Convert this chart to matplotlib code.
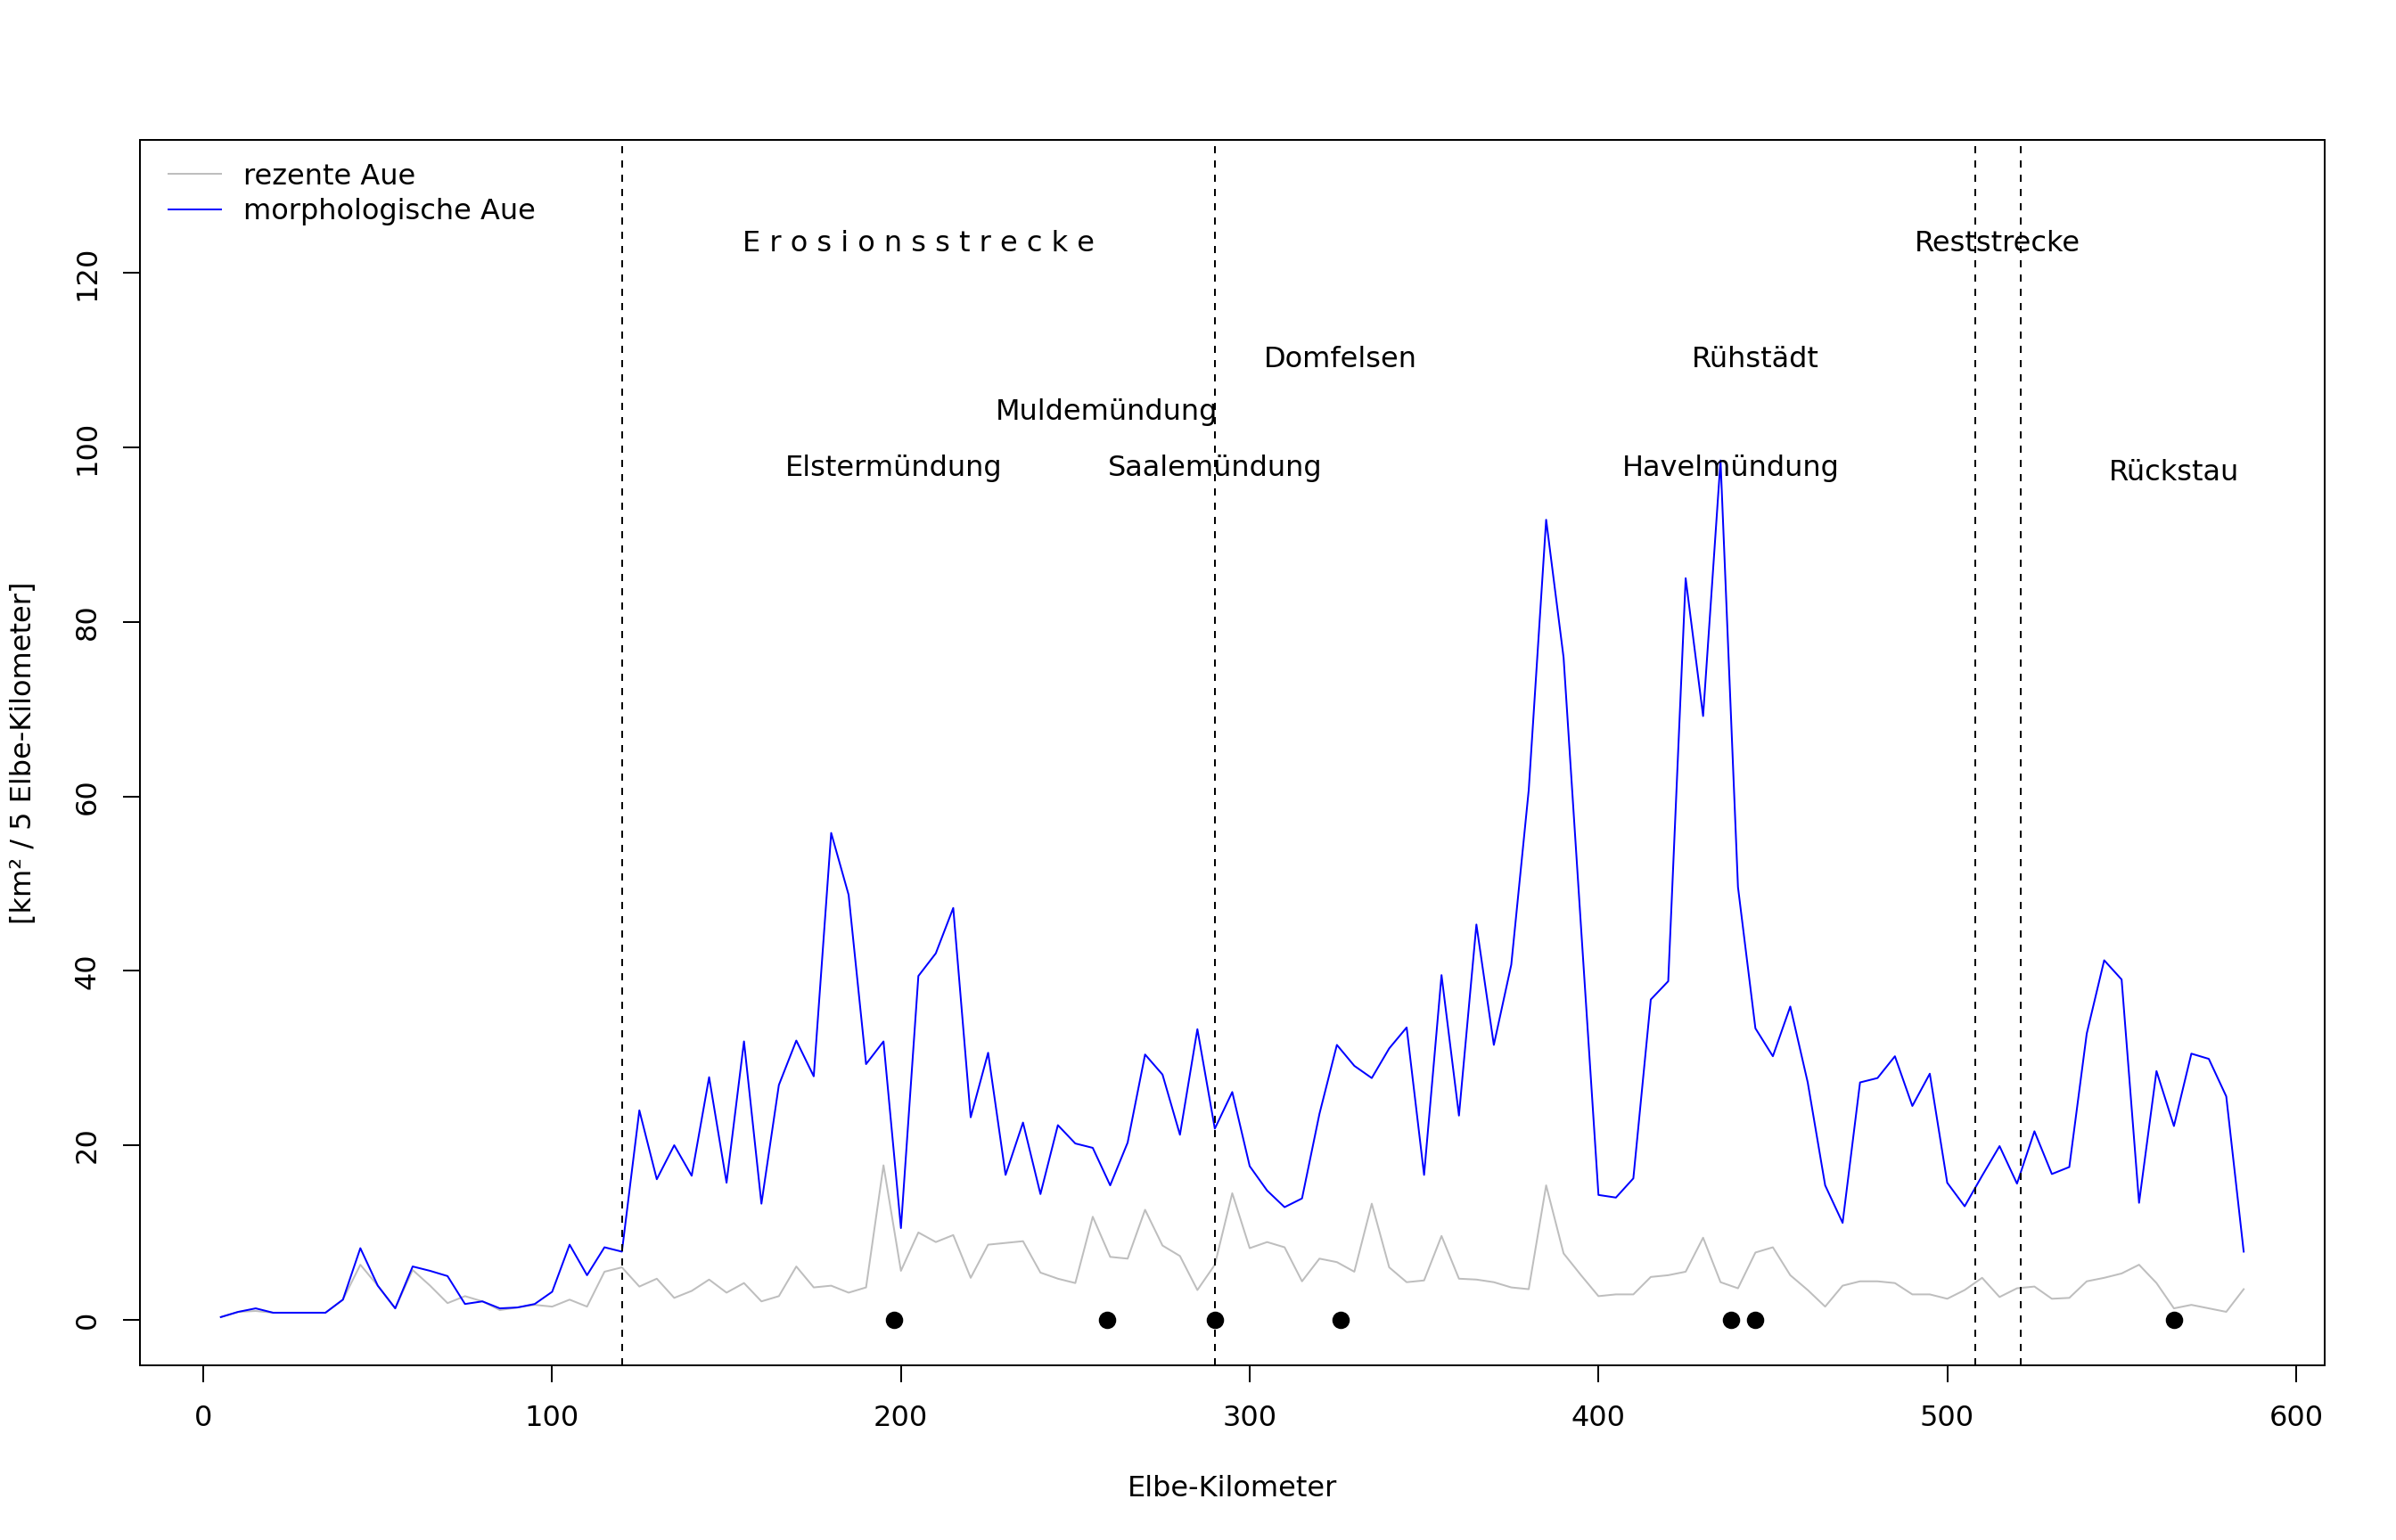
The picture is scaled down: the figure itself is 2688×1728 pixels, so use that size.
import numpy as np
import matplotlib
matplotlib.use("Agg")
import matplotlib.pyplot as plt

# ── Data ───────────────────────────────────────────────────
km = np.arange(5, 590, 5)

rezent = [0.3, 0.9, 1.0, 0.8, 0.8, 0.8, 0.8, 2.3, 6.3, 3.9,
          1.3, 5.7, 3.9, 1.9, 2.7, 2.1, 1.1, 1.4, 1.7, 1.5,
          2.3, 1.5, 5.5, 6.0, 3.8, 4.7, 2.5, 3.3, 4.6, 3.1,
          4.2, 2.1, 2.7, 6.1, 3.7, 3.9, 3.1, 3.7, 17.7, 5.6,
          10.0, 8.9, 9.7, 4.8, 8.6, 8.8, 9.0, 5.4, 4.7, 4.2,
          11.8, 7.2, 7.0, 12.6, 8.5, 7.3, 3.4, 6.3, 14.5, 8.2,
          8.9, 8.3, 4.4, 7.0, 6.6, 5.5, 13.3, 6.0, 4.3, 4.5,
          9.6, 4.7, 4.6, 4.3, 3.7, 3.5, 15.4, 7.6, 5.1, 2.7,
          2.9, 2.9, 4.9, 5.1, 5.5, 9.4, 4.3, 3.6, 7.7, 8.3,
          5.1, 3.4, 1.5, 3.9, 4.4, 4.4, 4.2, 2.9, 2.9, 2.4,
          3.4, 4.8, 2.6, 3.6, 3.8, 2.4, 2.5, 4.4, 4.8, 5.3,
          6.3, 4.2, 1.3, 1.7, 1.3, 0.9, 3.5]

morph = [0.3, 0.9, 1.3, 0.8, 0.8, 0.8, 0.8, 2.3, 8.2, 3.9,
         1.3, 6.1, 5.6, 5.0, 1.8, 2.1, 1.3, 1.4, 1.8, 3.2,
         8.6, 5.1, 8.3, 7.8, 24.0, 16.1, 20.0, 16.5, 27.8, 15.7,
         31.9, 13.3, 26.9, 32.0, 27.9, 55.8, 48.7, 29.3, 31.9, 10.5,
         39.4, 42.0, 47.2, 23.2, 30.6, 16.6, 22.6, 14.4, 22.3, 20.2,
         19.7, 15.4, 20.3, 30.4, 28.1, 21.2, 33.3, 21.9, 26.1, 17.6,
         14.8, 12.9, 13.9, 23.6, 31.5, 29.1, 27.7, 31.1, 33.5, 16.6,
         39.5, 23.4, 45.3, 31.5, 40.7, 60.7, 91.7, 75.9, 45.0, 14.3,
         14.0, 16.2, 36.7, 38.8, 85.0, 69.2, 98.5, 49.6, 33.4, 30.2,
         35.9, 27.2, 15.4, 11.1, 27.2, 27.7, 30.2, 24.5, 28.2, 15.7,
         13.0, 16.5, 19.9, 15.6, 21.6, 16.7, 17.5, 32.8, 41.2, 39.0,
         13.4, 28.5, 22.2, 30.5, 29.9, 25.6, 7.8]

grenzen = [120, 290, 508, 521]                  # Streckengrenzen
punkte  = [198, 259, 290, 326, 438, 445, 565]   # Mündungen / Orte

labels   = ["E r o s i o n s s t r e c k e", "Reststrecke", "Domfelsen",
            "Rühstädt", "Muldemündung", "Elstermündung", "Saalemündung",
            "Havelmündung", "Rückstau"]
label_km = [205, 514.5, 326, 445, 259, 198, 290, 438, 565]
label_y  = [123.3, 123.3, 110.1, 110.1, 104.0, 97.6, 97.6, 97.6, 97.1]

# ── Style (R-like) ─────────────────────────────────────────
plt.rcParams.update({
    "font.family": "DejaVu Sans", "font.size": 12,
    "axes.linewidth": 0.75, "xtick.major.width": 0.75, "ytick.major.width": 0.75,
    "xtick.major.size": 7.2, "ytick.major.size": 7.2,
    "xtick.major.pad": 9.5, "ytick.major.pad": 9.0,
})

fig = plt.figure(figsize=(14, 9), dpi=192)
ax = fig.add_axes([0.0584, 0.1136, 0.9702 - 0.0584, 0.9089 - 0.1136])

ax.plot(km, rezent, color="#BEBEBE", lw=0.75, label="rezente Aue")
ax.plot(km, morph, color="#0000FF", lw=0.75, label="morphologische Aue")

for g in grenzen:
    ax.axvline(g, color="black", lw=0.75, linestyle=(0, (4, 4)))

ax.scatter(punkte, np.zeros(len(punkte)), s=40, color="black", zorder=3)

for t, x, y in zip(labels, label_km, label_y):
    ax.text(x, y, t, ha="center", va="center", fontsize=12)

ax.set_xlim(-18.2, 608.2)
ax.set_ylim(-5.2, 135.2)
ax.set_xticks(range(0, 601, 100))
ax.set_yticks(range(0, 121, 20))
ax.set_yticklabels([str(v) for v in range(0, 121, 20)], rotation=90, va="center")

ax.set_xlabel("Elbe-Kilometer")
ax.set_ylabel("[km² / 5 Elbe-Kilometer]")
ax.xaxis.set_label_coords(0.5, -0.0895)
ax.yaxis.set_label_coords(-0.047, 0.5)

ax.legend(loc="upper left", bbox_to_anchor=(0.0, 1.005), frameon=False,
          handlelength=1.85, handletextpad=0.79, labelspacing=0.27,
          borderaxespad=0.6, fontsize=12)

fig.savefig("out.png", dpi=192, facecolor="white")
